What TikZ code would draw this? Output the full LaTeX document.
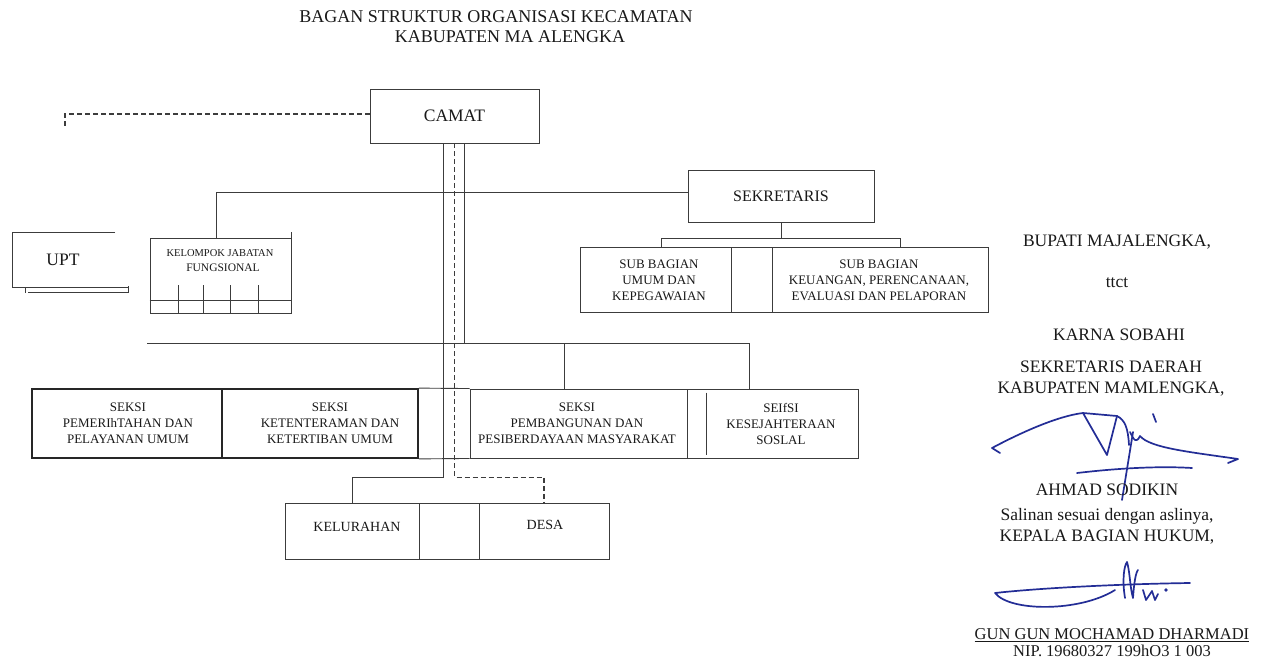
\documentclass[tikz,border=0pt]{standalone}
\usepackage{fontspec}
\setmainfont{Liberation Serif}
\definecolor{tc}{RGB}{25,25,25}
\definecolor{lc}{RGB}{60,60,60}
\definecolor{sc}{RGB}{35,45,150}
\begin{document}
\begin{tikzpicture}[x=1pt,y=-1pt,
  line/.style={draw=lc, line width=0.9pt},
  box/.style={draw=lc, line width=0.9pt, rectangle, inner sep=0pt, text=tc},
  thickbox/.style={draw=black!85, line width=1.8pt, rectangle, inner sep=0pt},
  dline/.style={draw=lc, line width=1.2pt, dash pattern=on 5pt off 3pt},
  lbl/.style={text=tc, inner sep=0pt, align=center},
  boxtxt/.style={lbl, font=\fontsize{13}{16}\selectfont},
  rtxt/.style={lbl, font=\fontsize{17.5}{21}\selectfont},
  stxt/.style={lbl, font=\fontsize{16.5}{18}\selectfont},
  sig/.style={draw=sc, line width=1.7pt, line cap=round, line join=round},
]
\useasboundingbox (0,0) rectangle (1268,661);
\fill[white] (0,0) rectangle (1268,661);

% title
\node[lbl, font=\fontsize{18}{21}\selectfont] (t1) at (496,17) {BAGAN STRUKTUR ORGANISASI KECAMATAN};
\node[lbl, font=\fontsize{18}{21}\selectfont] (t2) at (510,37) {KABUPATEN MA ALENGKA};

% main boxes
\node[box, minimum width=169, minimum height=54, font=\fontsize{17.5}{20}\selectfont] (camat) at (454.5,116) {CAMAT};
\node[box, minimum width=186, minimum height=52, font=\fontsize{16}{19}\selectfont] (sek) at (781,196) {SEKRETARIS};

% sub bagian row
\node[box, minimum width=151, minimum height=65] (sb1) at (655.5,279.5) {};
\node[box, minimum width=41, minimum height=65] (sbg) at (751.5,279.5) {};
\node[box, minimum width=216, minimum height=65] (sb2) at (880,279.5) {};
\node[boxtxt] (sb1t) at (659,280) {SUB BAGIAN\\UMUM DAN\\KEPEGAWAIAN};
\node[boxtxt] (sb2t) at (879,280) {SUB BAGIAN\\KEUANGAN, PERENCANAAN,\\EVALUASI DAN PELAPORAN};

% UPT
\draw[line] (115,232) -- (12,232) -- (12,287) -- (128,287);
\draw[line] (25,287) -- (25,293);
\draw[line] (28,292) -- (128,292) -- (128,286);
\node[lbl, font=\fontsize{17.5}{20}\selectfont] (upt) at (63,260) {UPT};

% kelompok jabatan fungsional
\node[box, minimum width=141, minimum height=75] (kjf) at (220.5,275.5) {};
\draw[line] (kjf.north east) -- ++(0,-6);
\draw[line] ([yshift=-63pt]kjf.north west) -- ([yshift=-63pt]kjf.north east);
\foreach \x in {178,203,230,258} \draw[line] (\x,285) -- (\x,313);
\node[lbl, font=\fontsize{10.5}{12}\selectfont] (kjft1) at (220,253) {KELOMPOK JABATAN};
\node[lbl, font=\fontsize{11.5}{13}\selectfont] (kjft2) at (223,268) {FUNGSIONAL};

% seksi row
\node[thickbox, minimum width=190, minimum height=69] (s1) at (127,423.5) {};
\node[thickbox, minimum width=196, minimum height=69] (s2) at (320,423.5) {};
\node[box, minimum width=217, minimum height=69] (s3) at (578.5,423.5) {};
\node[box, minimum width=171, minimum height=69] (s4) at (772.5,423.5) {};
\draw[line] (s2.north east) -- (s3.north west);
\draw[line] (s2.south east) -- (s3.south west);
\draw[line] ([xshift=20pt,yshift=-4pt]s4.north west) -- ([xshift=20pt,yshift=3pt]s4.south west);
\node[boxtxt] (s1t) at (128,423.5) {SEKSI\\PEMERIhTAHAN DAN\\PELAYANAN UMUM};
\node[boxtxt] (s2t) at (330,423.5) {SEKSI\\KETENTERAMAN DAN\\KETERTIBAN UMUM};
\node[boxtxt] (s3t) at (577,423.5) {SEKSI\\PEMBANGUNAN DAN\\PESIBERDAYAAN MASYARAKAT};
\node[boxtxt] (s4t) at (781,423.5) {SEIfSI\\KESEJAHTERAAN\\SOSLAL};

% kelurahan / desa row
\node[box, minimum width=134, minimum height=56] (kel) at (352,531) {};
\node[box, minimum width=60, minimum height=56] (kg) at (449,531) {};
\node[box, minimum width=130, minimum height=56] (desa) at (544,531) {};
\node[lbl, font=\fontsize{14}{16}\selectfont] (kelt) at (357,527) {KELURAHAN};
\node[lbl, font=\fontsize{14}{16}\selectfont] (desat) at (545,525) {DESA};

% connectors
\coordinate (upDash) at (65,126);
\draw[dline] ([yshift=2pt]camat.west) -| (upDash);
\coordinate (hk) at (216,192);
\draw[line] ([yshift=4pt]sek.west) -- (hk) -- ([xshift=-4.5pt]kjf.north);
\draw[line] ([xshift=-11.5pt]camat.south) -- ++(0,334) -| (kel.north);
\draw[dline] (camat.south) -- ++(0,334) -| (desa.north);
\draw[line] ([xshift=9.5pt]camat.south) -- ++(0,200);
\coordinate (barL) at (147,343);
\coordinate (barM) at (564,343);
\coordinate (barR) at (749,343);
\draw[line] (barL) -- (barR) -- (barR |- s4.north);
\draw[line] (barM) -- (barM |- s3.north);
\draw[line] (sek.south) -- ++(0,16);
\coordinate (sbL) at (661,238);
\coordinate (sbR) at (900,238);
\draw[line] (sbL) -- (sbR);
\draw[line] (sbL) -- (sbL |- sb1.north);
\draw[line] (sbR) -- (sbR |- sb2.north);

% right block
\node[rtxt] (bup) at (1117,242) {BUPATI MAJALENGKA,};
\node[rtxt] (ttct) at (1117,283) {ttct};
\node[rtxt] (karna) at (1119,335) {KARNA SOBAHI};
\node[rtxt] (sekda) at (1111,379) {SEKRETARIS DAERAH\\KABUPATEN MAMLENGKA,};

% signature 1
\draw[sig] (1000,453) -- (992,448) .. controls (1022,432) and (1058,416) .. (1083,413);
\draw[sig] (1083,413) -- (1117,416) -- (1107,455) -- cycle;
\draw[sig] (1117,416) .. controls (1125,420) and (1128,428) .. (1129,445);
\draw[sig] (1130,432) .. controls (1134,440) and (1136,444) .. (1140,436) .. controls (1150,448) and (1190,452) .. (1238,459) -- (1228,463);
\draw[sig] (1077,473) .. controls (1120,468) and (1160,466) .. (1192,468);
\draw[sig] (1133,432) -- (1122,500);
\draw[sig] (1153,414) -- (1156,422);

\node[rtxt] (ahmad) at (1107,490) {AHMAD SODIKIN};
\node[rtxt] (sal) at (1107,526) {Salinan sesuai dengan aslinya,\\KEPALA BAGIAN HUKUM,};

% signature 2
\draw[sig] (1190,583) .. controls (1120,584) and (1040,588) .. (995,593) .. controls (1010,612) and (1080,612) .. (1115,590);
\draw[sig] (1125,598) .. controls (1122,580) and (1124,566) .. (1127,562) .. controls (1130,572) and (1130,588) .. (1133,598) .. controls (1134,582) and (1136,572) .. (1138,570);
\draw[sig] (1143,590) -- (1146,600) -- (1152,591) -- (1155,600) -- (1158,594);
\fill[sc] (1166,590) circle (1.8);

\node[stxt] (gun) at (1112,635) {\underline{GUN GUN MOCHAMAD DHARMADI}};
\node[stxt] (nip) at (1112,651) {NIP. 19680327 199hO3 1 003};
\end{tikzpicture}
\end{document}
